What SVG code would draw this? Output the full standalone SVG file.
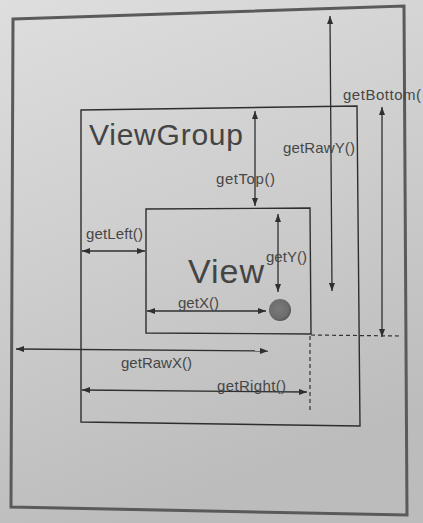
<svg xmlns="http://www.w3.org/2000/svg" width="423" height="523" viewBox="0 0 423 523">
  <defs>
    <linearGradient id="paper" x1="0" y1="0" x2="0.3" y2="1">
      <stop offset="0" stop-color="#dddedd"/>
      <stop offset="0.5" stop-color="#cdcecd"/>
      <stop offset="1" stop-color="#bbbcbb"/>
    </linearGradient>
    <radialGradient id="dot" cx="0.45" cy="0.45" r="0.55">
      <stop offset="0" stop-color="#7a7a7a"/>
      <stop offset="0.8" stop-color="#6c6c6c"/>
      <stop offset="1" stop-color="#555"/>
    </radialGradient>
    <marker id="head" viewBox="0 0 8 6" refX="8" refY="3" markerWidth="8" markerHeight="6" markerUnits="userSpaceOnUse" orient="auto-start-reverse">
      <path d="M0,0 L8,3 L0,6 Z" fill="#2f2f2f"/>
    </marker>
    <style>
      .box { fill: none; stroke: #2e2e2e; stroke-width: 1.4; }
      .frame { fill: none; stroke: #5a5a5a; stroke-width: 3; }
      .arr { fill: none; stroke: #2f2f2f; stroke-width: 1.3; marker-start: url(#head); marker-end: url(#head); }
      .dash { fill: none; stroke: #333; stroke-width: 1.2; stroke-dasharray: 4 3; }
      .lbl { font-family: "Liberation Sans", Arial, sans-serif; font-size: 15px; fill: #474747; }
      .big { font-family: "Liberation Sans", Arial, sans-serif; fill: #444; }
    </style>
  </defs>

  <rect width="423" height="523" fill="url(#paper)"/>

  <!-- screen frame -->
  <g id="screen">
    <polygon class="frame" points="13,19 404,6 407,515 11,507"/>
  </g>

  <!-- ViewGroup container -->
  <g id="viewgroup">
    <polygon class="box" points="81,110 357,106 360,426 81,422"/>
    <text class="big" x="89" y="145" font-size="30" textLength="154">ViewGroup</text>
  </g>

  <!-- child View -->
  <g id="view">
    <polygon class="box" points="146,209 310,208 311,334 146,333"/>
    <text class="big" x="188" y="283" font-size="34" textLength="76">View</text>
  </g>

  <!-- touch point -->
  <g id="touch">
    <circle cx="280" cy="310" r="11" fill="url(#dot)"/>
  </g>

  <!-- measurement connectors -->
  <g id="connectors">
    <line class="arr" x1="330" y1="16" x2="332" y2="291"/>
    <line class="arr" x1="255" y1="111" x2="255" y2="206"/>
    <line class="arr" x1="382" y1="107" x2="382" y2="337"/>
    <line class="arr" x1="278" y1="214" x2="278" y2="292"/>
    <line class="arr" x1="147" y1="311" x2="266" y2="311"/>
    <line class="arr" x1="82" y1="251" x2="145" y2="251"/>
    <line class="arr" x1="16" y1="349" x2="268" y2="351"/>
    <line class="arr" x1="82" y1="390" x2="307" y2="392"/>
    <line class="dash" x1="311" y1="335" x2="401" y2="336"/>
    <line class="dash" x1="310" y1="336" x2="310" y2="410"/>
  </g>

  <!-- labels -->
  <g id="labels">
    <text class="lbl" x="343" y="100" font-size="16" textLength="78">getBottom(</text>
    <text class="lbl" x="283" y="153" textLength="72">getRawY()</text>
    <text class="lbl" x="216" y="184" textLength="59">getTop()</text>
    <text class="lbl" x="86" y="239" textLength="57">getLeft()</text>
    <text class="lbl" x="266" y="262" textLength="41">getY()</text>
    <text class="lbl" x="178" y="308" textLength="41">getX()</text>
    <text class="lbl" x="121" y="368" textLength="71">getRawX()</text>
    <text class="lbl" x="217" y="391" textLength="69">getRight()</text>
  </g>
</svg>
